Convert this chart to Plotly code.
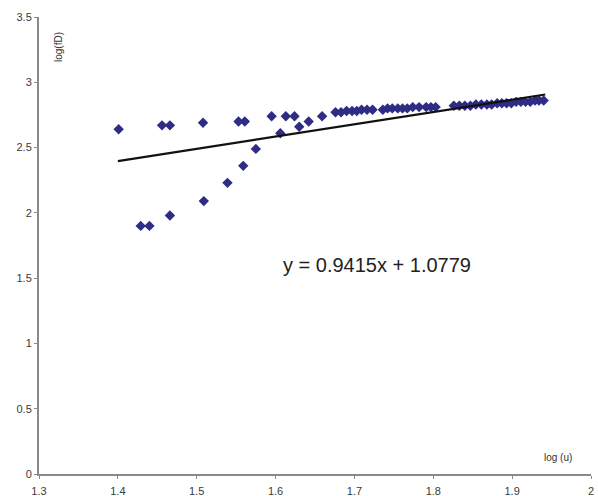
import plotly.graph_objects as go

# Scatter data: log(u) vs log(fD)
log_u = [
    1.401, 1.456, 1.466, 1.508, 1.553, 1.561, 1.595, 1.613, 1.624,
    1.429, 1.440, 1.466, 1.509, 1.539, 1.559, 1.575, 1.606, 1.630, 1.642, 1.659,
    1.676, 1.683, 1.690, 1.697, 1.703, 1.709, 1.716, 1.723, 1.736, 1.742,
    1.748, 1.755, 1.761, 1.767, 1.774, 1.782, 1.791, 1.797, 1.803,
    1.826, 1.833, 1.840, 1.847, 1.854, 1.861, 1.868, 1.874, 1.881, 1.887,
    1.893, 1.899, 1.905, 1.911, 1.917, 1.923, 1.929, 1.934, 1.940,
]
log_fD = [
    2.64, 2.67, 2.67, 2.69, 2.70, 2.70, 2.74, 2.74, 2.74,
    1.90, 1.90, 1.98, 2.09, 2.23, 2.36, 2.49, 2.61, 2.66, 2.70, 2.74,
    2.77, 2.77, 2.78, 2.78, 2.78, 2.79, 2.79, 2.79, 2.79, 2.80,
    2.80, 2.80, 2.80, 2.80, 2.81, 2.81, 2.81, 2.81, 2.81,
    2.82, 2.82, 2.82, 2.82, 2.83, 2.83, 2.83, 2.83, 2.84, 2.84,
    2.84, 2.84, 2.85, 2.85, 2.85, 2.85, 2.86, 2.86, 2.86,
]

# Linear trend line y = 0.9415x + 1.0779
slope = 0.9415
intercept = 1.0779
trend_x = [1.40, 1.942]
trend_y = [slope * v + intercept for v in trend_x]

x_ticks = [1.3, 1.4, 1.5, 1.6, 1.7, 1.8, 1.9, 2.0]
x_tick_text = ["1.3", "1.4", "1.5", "1.6", "1.7", "1.8", "1.9", "2"]
y_ticks = [0, 0.5, 1, 1.5, 2, 2.5, 3, 3.5]
y_tick_text = ["0", "0.5", "1", "1.5", "2", "2.5", "3", "3.5"]

FONT = "Arial, Liberation Sans, sans-serif"

fig = go.Figure()
fig.add_trace(go.Scatter(
    x=log_u, y=log_fD, mode="markers",
    marker=dict(symbol="diamond", size=8, color="#2e2c85"),
    showlegend=False,
))
fig.add_trace(go.Scatter(
    x=trend_x, y=trend_y, mode="lines",
    line=dict(color="#111111", width=2.2),
    showlegend=False,
))

fig.update_layout(
    width=598, height=496,
    margin=dict(l=39, r=7, t=17, b=22),
    paper_bgcolor="white", plot_bgcolor="white",
    font=dict(family=FONT, size=11, color="#3a3a3a"),
    xaxis=dict(
        range=[1.3, 2.0], tickvals=x_ticks, ticktext=x_tick_text,
        showgrid=False, zeroline=False, showline=True,
        linecolor="#8a8a8a", linewidth=2,
        ticks="outside", ticklen=3, tickcolor="#8a8a8a",
        ticklabelstandoff=3, automargin=False,
    ),
    yaxis=dict(
        range=[0, 3.5], tickvals=y_ticks, ticktext=y_tick_text,
        showgrid=False, zeroline=False, showline=True,
        linecolor="#8a8a8a", linewidth=2,
        ticks="outside", ticklen=3, tickcolor="#8a8a8a",
        automargin=False,
    ),
)

# Position annotations in pixel-like paper coords
plot_w = 598 - 39 - 7
plot_h = 496 - 17 - 22
def px(xp):
    return (xp - 39) / plot_w
def py(yp):
    return (496 - 22 - yp) / plot_h

fig.add_annotation(text="y = 0.9415x + 1.0779", x=px(377), y=py(265),
                   xref="paper", yref="paper", showarrow=False,
                   xanchor="center", yanchor="middle",
                   font=dict(size=20, color="#222222", family=FONT))
fig.add_annotation(text="log(fD)", x=px(58), y=py(47), xref="paper", yref="paper",
                   showarrow=False, textangle=-90, xanchor="center", yanchor="middle",
                   font=dict(size=10, color="#333333", family=FONT))
fig.add_annotation(text="log (u)", x=px(558), y=py(457), xref="paper", yref="paper",
                   showarrow=False, xanchor="center", yanchor="middle",
                   font=dict(size=10, color="#333333", family=FONT))

fig.write_html("out.html")
